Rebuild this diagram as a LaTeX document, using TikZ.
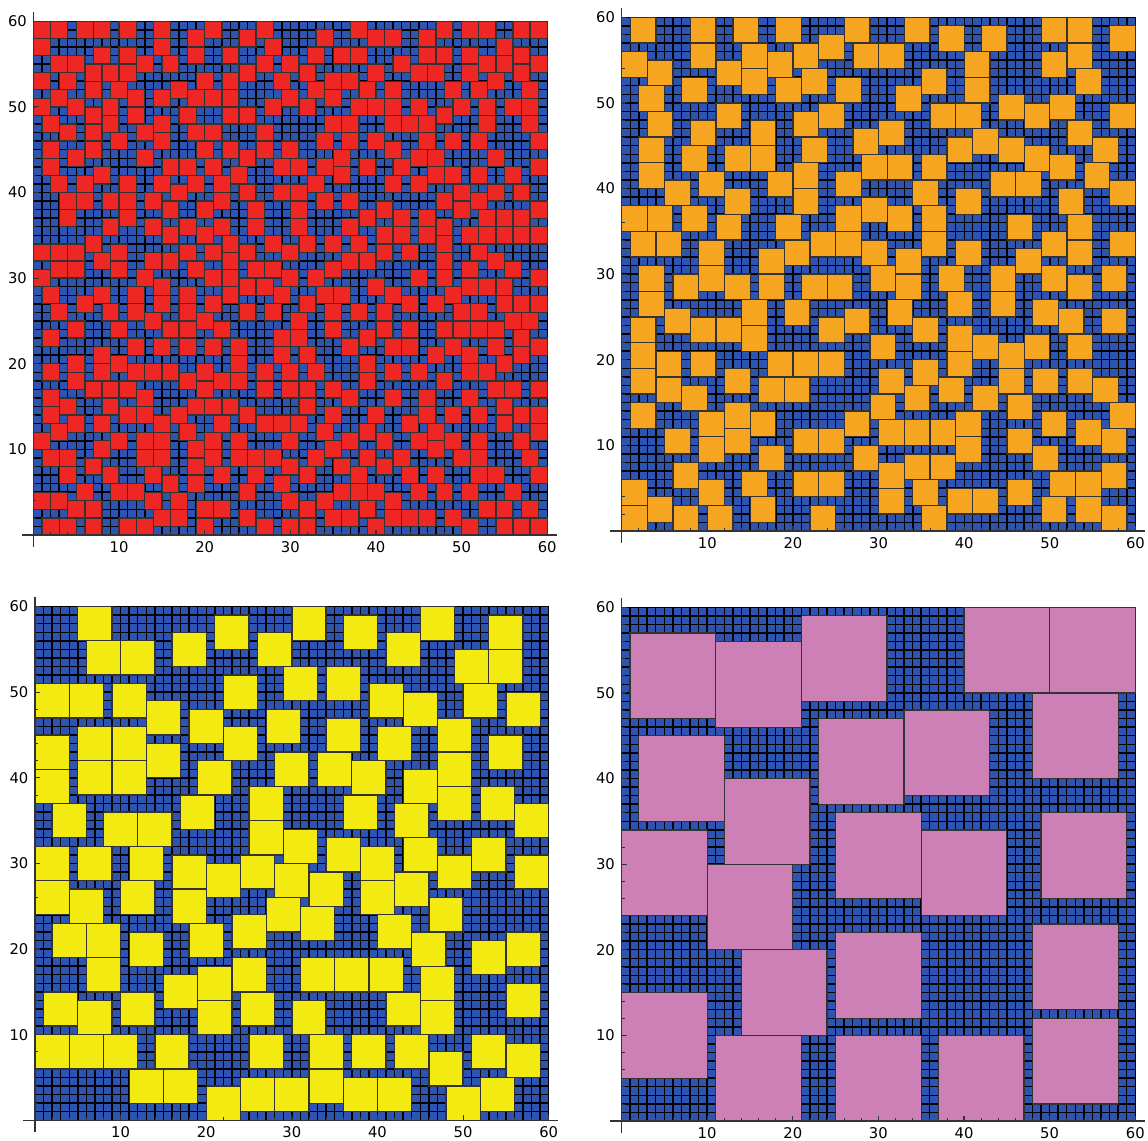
\documentclass[tikz,border=0pt]{standalone}
\usepackage{fontspec}
\setmainfont{DejaVu Sans}

\definecolor{cellblue}{RGB}{44,84,176}
\definecolor{tilered}{RGB}{238,38,36}
\definecolor{tileorange}{RGB}{246,165,32}
\definecolor{tileyellow}{RGB}{242,234,16}
\definecolor{tilepink}{RGB}{204,128,181}

\tikzset{
  sitegrid/.style={draw=black,line width=1.0pt},
  tilebox/.style={draw=black!80,line width=0.9pt},
  axisline/.style={draw=black!80,line width=0.8pt},
  ticklabel/.style={font=\fontsize{10.5}{12}\selectfont,inner sep=0pt},
}

% the 60x60 lattice of sites
\newcommand\lattice{%
  \fill[cellblue] (0,0) rectangle (60,60);
  \foreach \g in {0,...,60}{
    \draw[sitegrid] (\g,0) -- (\g,60);
    \draw[sitegrid] (0,\g) -- (60,\g);
  }
}

% axes, ticks and tick labels
\newcommand\frameaxes{%
  \draw[axisline] (-1.4,0) -- (61.1,0);
  \draw[axisline] (0,-1.4) -- (0,61.1);
  \foreach \t in {2,4,...,58}{
    \draw[axisline,line width=0.5pt] (\t,0) -- (\t,0.35);
    \draw[axisline,line width=0.5pt] (0,\t) -- (0.35,\t);
  }
  \foreach \t in {10,20,...,60}{
    \draw[axisline] (\t,0) -- (\t,0.6);
    \draw[axisline] (0,\t) -- (0.6,\t);
    \node[ticklabel,anchor=north] (xl\t) at (\t,-0.75) {\t};
    \node[ticklabel,anchor=east] (yl\t) at (-0.75,\t) {\t};
  }
}

% random sequential adsorption of #2 x #2 tiles, #3 of them
\newcount\tilecount
\makeatletter
\newcommand\scatter[4]{%
  \global\tilecount=0
  \pgfmathtruncatemacro\scmax{60-#2}%
  \pgfmathtruncatemacro\scin{#2-1}%
  \foreach \k in {1,...,8000}{%
    \ifnum\tilecount<#3\relax
      \pgfmathrandominteger{\ri}{0}{\scmax}%
      \pgfmathrandominteger{\rj}{0}{\scmax}%
      \gdef\scfree{Y}%
      \foreach \a in {0,...,\scin}{\foreach \b in {0,...,\scin}{%
        \ifcsname occ@#1@\the\numexpr\ri+\a\relax @\the\numexpr\rj+\b\relax\endcsname
          \gdef\scfree{N}\fi}}%
      \if Y\scfree
        \foreach \a in {0,...,\scin}{\foreach \b in {0,...,\scin}{%
          \expandafter\gdef\csname occ@#1@\the\numexpr\ri+\a\relax @\the\numexpr\rj+\b\relax\endcsname{}}}%
        \global\advance\tilecount by 1
        \fill[#4,tilebox] (\ri,\rj) rectangle ++(#2,#2);
      \fi
    \fi
  }%
}
\makeatother

\begin{document}
\begin{tikzpicture}[x=0.025cm,y=0.025cm]
\useasboundingbox (0,0) rectangle (1148,1140);

% dimers
\begin{scope}[shift={(33.5,605)},x=0.214cm,y=0.214cm,name prefix=tl-]
\lattice
\pgfmathsetseed{12}
\scatter{red}{2}{510}{tilered}
\frameaxes
\end{scope}

% 3x3 tiles
\begin{scope}[shift={(621.7,609)},x=0.214cm,y=0.214cm,name prefix=tr-]
\lattice
\pgfmathsetseed{7}
\scatter{orange}{3}{215}{tileorange}
\frameaxes
\end{scope}

% 4x4 tiles
\begin{scope}[shift={(35,19.7)},x=0.214cm,y=0.214cm,name prefix=bl-]
\lattice
\foreach \x/\y in {5/56,6/52,10/52,16/53,21/55,26/53,30/56,36/55,41/53,45/56,53/55,49/51,53/51,
  0/47,4/47,9/47,13/45,22/48,18/44,27/44,29/49,34/49,39/47,43/46,50/47,55/46,
  22/42,0/41,0/37,5/42,9/42,5/38,9/38,13/40,19/38,28/39,34/43,40/42,47/43,47/39,53/41,33/39,37/38,43/37,
  2/33,8/32,12/32,17/34,25/35,25/31,36/34,42/33,47/35,52/35,56/33,
  0/28,5/28,11/28,16/27,20/26,24/27,28/26,29/30,34/29,38/28,43/29,47/27,51/29,56/27,
  0/24,4/23,10/24,16/23,27/22,23/20,32/25,38/24,42/25,46/22,31/21,40/20,44/18,51/17,55/18,
  2/19,6/19,11/18,18/19,6/15,23/15,15/13,19/14,19/10,31/15,35/15,39/15,45/14,45/10,41/11,55/12,
  1/11,5/10,10/11,24/11,30/10,
  0/6,4/6,8/6,14/6,25/6,32/6,37/6,42/6,46/4,51/6,55/5,
  11/2,15/2,20/0,24/1,28/1,32/2,36/1,40/1,48/0,52/1}
  \fill[tileyellow,tilebox] (\x,\y) rectangle ++(4,4);
\frameaxes
\end{scope}

% 10x10 tiles
\begin{scope}[shift={(621.5,19)},x=0.214cm,y=0.214cm,name prefix=br-]
\lattice
\foreach \x/\y in {1/47,11/46,21/49,40/50,50/50,2/35,23/37,33/38,48/40,12/30,0/24,10/20,
  25/26,35/24,49/26,14/10,25/12,48/13,0/5,11/0,25/0,37/0,48/2}
  \fill[tilepink,tilebox] (\x,\y) rectangle ++(10,10);
\frameaxes
\end{scope}

\end{tikzpicture}
\end{document}
